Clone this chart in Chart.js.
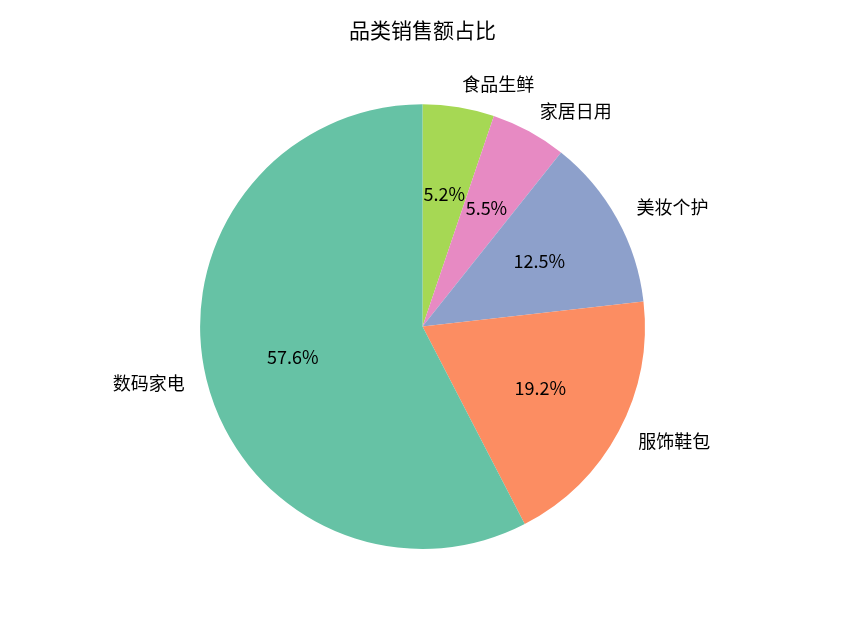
<!DOCTYPE html>
<html>
<head>
<meta charset="utf-8">
<script src="https://cdn.jsdelivr.net/npm/chart.js@4"></script>
<style>
  html, body { margin: 0; padding: 0; background: #fff; }
  #wrap { width: 845px; height: 624px; }
</style>
</head>
<body>
<div id="wrap"><canvas id="pieChart"></canvas></div>
<script>
  // data, in the order matplotlib draws it (counterclockwise from the top)
  const categories = ['数码家电', '服饰鞋包', '美妆个护', '家居日用', '食品生鲜'];
  const shares = [57.6, 19.2, 12.5, 5.5, 5.2];
  const colors = ['#66c2a5', '#fc8d62', '#8da0cb', '#e78ac3', '#a6d854'];

  // Chart.js goes clockwise, so flip the order
  const labels = categories.slice().reverse();
  const values = shares.slice().reverse();
  const bg = colors.slice().reverse();

  const FONT = "'Noto Sans CJK SC', 'Noto Sans', sans-serif";

  const pieLabels = {
    id: 'pieLabels',
    afterDatasetsDraw(chart) {
      const ctx = chart.ctx;
      const meta = chart.getDatasetMeta(0);
      ctx.save();
      ctx.font = '18px ' + FONT;
      ctx.fillStyle = '#000';
      ctx.textBaseline = 'middle';
      meta.data.forEach((arc, i) => {
        const mid = (arc.startAngle + arc.endAngle) / 2;
        const r = arc.outerRadius;
        const cx = Math.cos(mid), cy = Math.sin(mid);
        // category label outside
        ctx.textAlign = cx > 0 ? 'left' : 'right';
        ctx.fillText(labels[i], arc.x + cx * r * 1.1, arc.y + cy * r * 1.1 - 1);
        // percentage inside
        ctx.textAlign = 'center';
        ctx.fillText(values[i].toFixed(1) + '%', arc.x + cx * r * 0.6, arc.y + cy * r * 0.6 - 1);
      });
      ctx.restore();
    }
  };

  new Chart(document.getElementById('pieChart').getContext('2d'), {
    type: 'pie',
    data: {
      labels: labels,
      datasets: [{
        data: values,
        backgroundColor: bg,
        borderWidth: 0
      }]
    },
    options: {
      responsive: true,
      maintainAspectRatio: false,
      animation: false,
      layout: { padding: { top: 0, bottom: 75, left: 0, right: 0 } },
      plugins: {
        legend: { display: false },
        tooltip: { enabled: false },
        title: {
          display: true,
          text: '品类销售额占比',
          color: '#000',
          font: { family: FONT, size: 21, weight: 'normal', lineHeight: 1.2 },
          padding: { top: 17, bottom: 62 }
        }
      }
    },
    plugins: [pieLabels]
  });
</script>
</body>
</html>
